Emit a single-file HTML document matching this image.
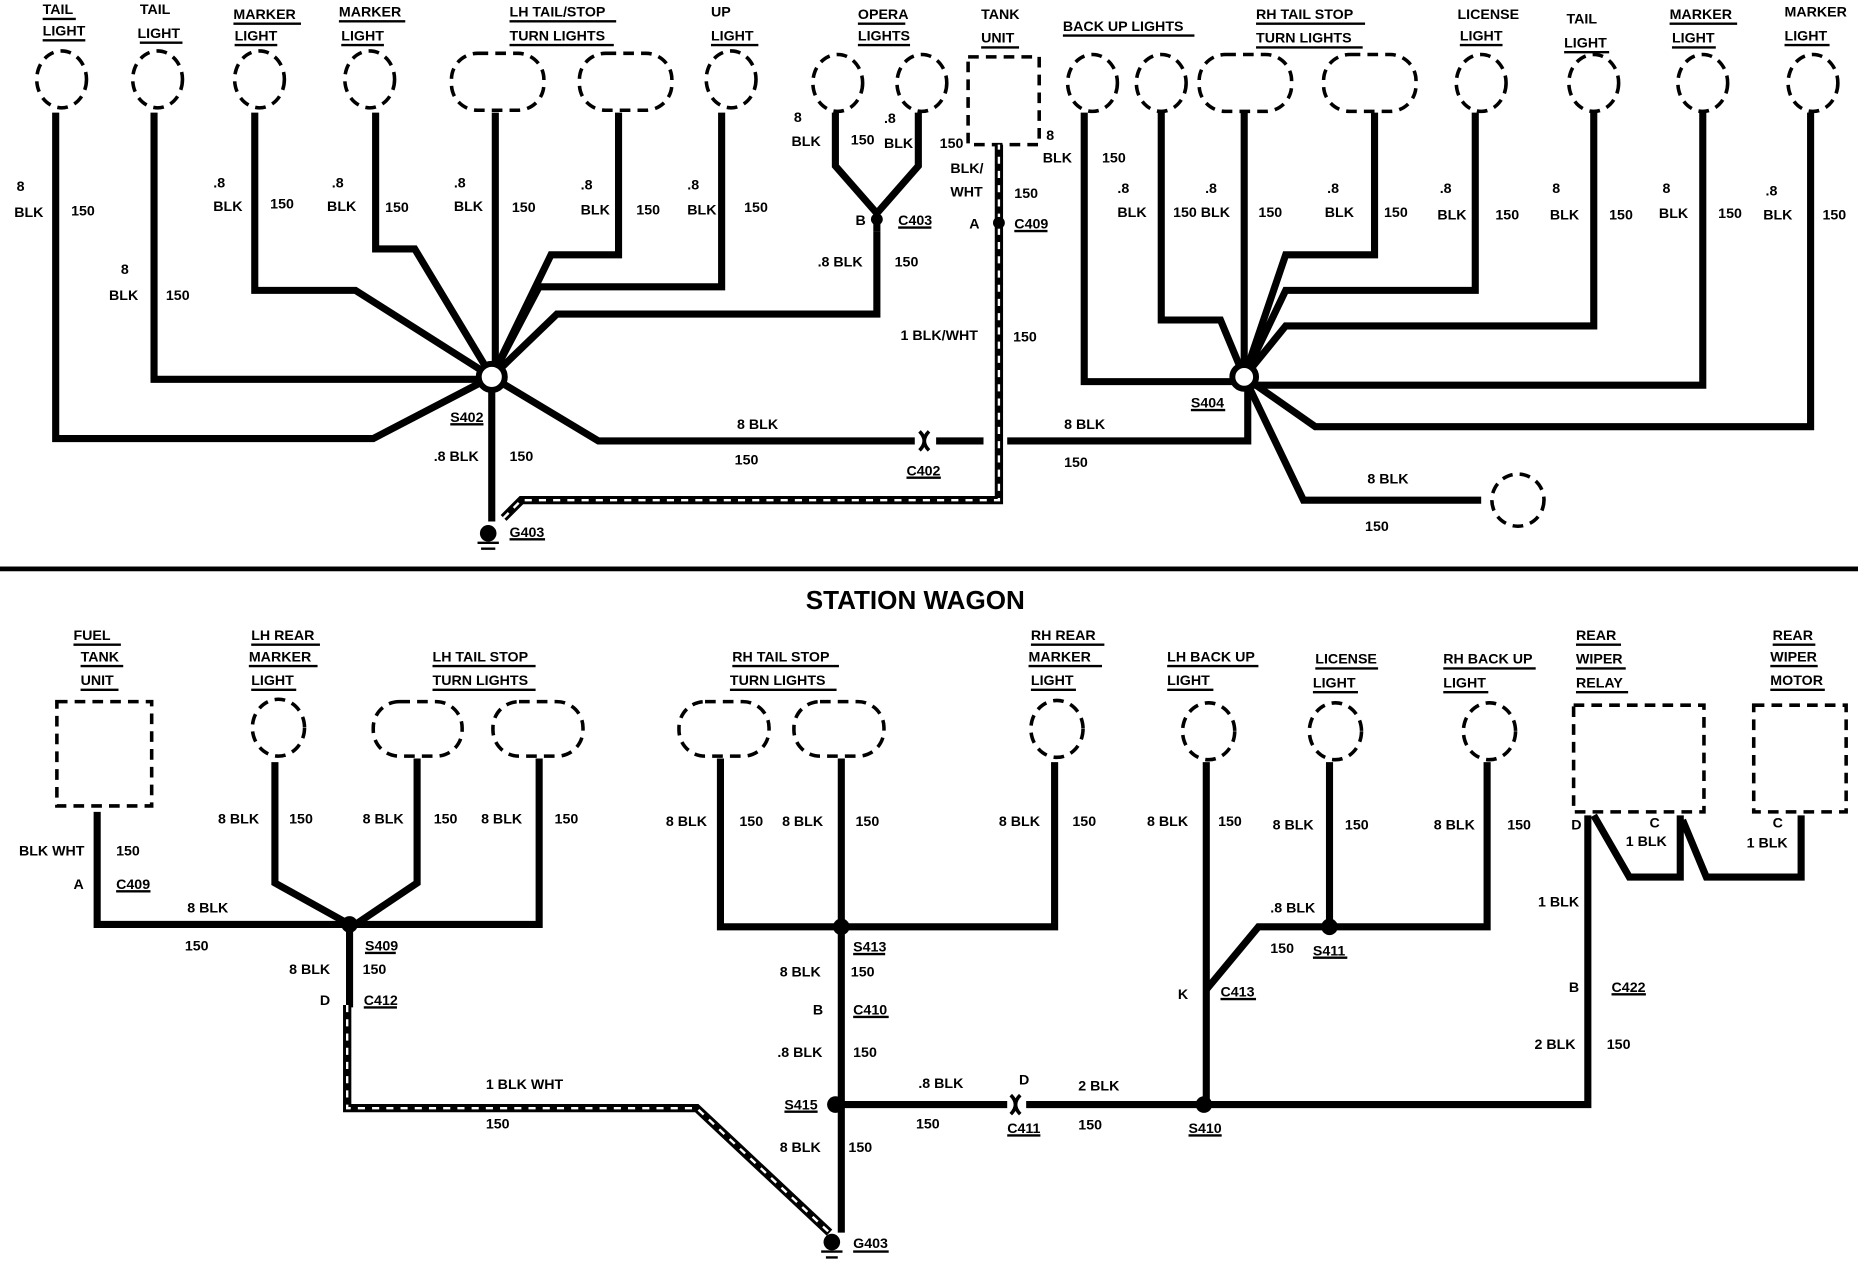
<!DOCTYPE html>
<html><head><meta charset="utf-8"><style>
html,body{margin:0;padding:0;background:#fff;}
svg{display:block;}
text{font-family:"Liberation Sans",sans-serif;font-weight:bold;font-size:12px;fill:#000;}
.t{font-size:12px;}
.w{fill:none;stroke:#000;stroke-width:6;stroke-linejoin:miter;}
.h{fill:none;stroke:#000;stroke-width:7;}
.hw{fill:none;stroke:#fff;stroke-width:2;stroke-dasharray:6 6;}
.d{fill:none;stroke:#000;stroke-width:3;stroke-dasharray:9 6;}
.u{stroke:#000;stroke-width:2;}
</style></head><body>
<svg width="1858" height="1280" viewBox="0 0 1568 1080" preserveAspectRatio="none" xmlns="http://www.w3.org/2000/svg">
<!-- TOP components -->
<g class="d">
<ellipse cx="52" cy="67" rx="21" ry="24"/><ellipse cx="133" cy="67" rx="21" ry="24"/>
<ellipse cx="219" cy="67" rx="21" ry="24"/><ellipse cx="312" cy="67" rx="21" ry="24"/>
<rect x="381" y="45" width="78" height="48" rx="22"/><rect x="489" y="45" width="78" height="48" rx="22"/>
<ellipse cx="617" cy="67" rx="21" ry="24"/>
<ellipse cx="707" cy="70" rx="21" ry="24"/><ellipse cx="778" cy="70" rx="21" ry="24"/>
<rect x="817" y="48" width="60" height="74"/>
<ellipse cx="922" cy="70" rx="21" ry="24"/><ellipse cx="980" cy="70" rx="21" ry="24"/>
<rect x="1012" y="46" width="78" height="48" rx="22"/><rect x="1117" y="46" width="78" height="48" rx="22"/>
<ellipse cx="1250" cy="70" rx="21" ry="24"/><ellipse cx="1345" cy="70" rx="21" ry="24"/>
<ellipse cx="1437" cy="70" rx="21" ry="24"/><ellipse cx="1530" cy="70" rx="21" ry="24"/>
<ellipse cx="1281" cy="422" rx="22" ry="22"/>
</g>
<g class="w">
<path d="M47 95V370H315L415 318"/>
<path d="M130 95V320H415"/>
<path d="M215 95V245H300L415 318"/>
<path d="M317 95V210H350L415 318"/>
<path d="M418 95V318"/>
<path d="M522 95V215H465L415 318"/>
<path d="M609 95V242H455L415 318"/>
<path d="M740 195V265H470L415 318"/>
<path d="M705 95V140L740 180M775 95V140L740 180V195"/>
<path d="M415 318L505 372H772M830 372"/>
<path d="M850 372H1053V318"/>
<path d="M415 318V440"/>
<path d="M915 95V322H1050"/>
<path d="M980 95V270H1030L1050 318"/>
<path d="M1050 95V318"/>
<path d="M1160 95V215H1085L1050 318"/>
<path d="M1245 95V245H1085L1050 318"/>
<path d="M1345 95V275H1085L1050 318"/>
<path d="M1437 95V325H1050"/>
<path d="M1528 95V360H1110L1050 318"/>
<path d="M1050 318L1100 422H1250"/>
<path d="M790 372H830"/>
</g>
<path class="h" d="M425 437L440 422H843V122"/><path class="hw" d="M425 437L440 422H843V122"/>
<circle cx="415" cy="318" r="11" fill="#fff" stroke="#000" stroke-width="5"/>
<circle cx="1050" cy="318" r="10" fill="#fff" stroke="#000" stroke-width="5"/>
<path d="M776 364q8 8 0 16M784 364q-8 8 0 16" stroke="#000" stroke-width="3" fill="none"/>
<circle cx="740" cy="185" r="5"/><circle cx="843" cy="188" r="5"/>
<circle cx="412" cy="450" r="7"/><path class="u" d="M403 458H421M406 463H418"/>
<!-- top labels -->
<g>
<text x="36" y="12">TAIL</text><text x="36" y="30">LIGHT</text>
<text x="118" y="12">TAIL</text><text x="116" y="32">LIGHT</text>
<text x="197" y="16">MARKER</text><text x="198" y="34">LIGHT</text>
<text x="286" y="14">MARKER</text><text x="288" y="34">LIGHT</text>
<text x="430" y="14">LH TAIL/STOP</text><text x="430" y="34">TURN LIGHTS</text>
<text x="600" y="14">UP</text><text x="600" y="34">LIGHT</text>
<text x="724" y="16">OPERA</text><text x="724" y="34">LIGHTS</text>
<text x="828" y="16">TANK</text><text x="828" y="36">UNIT</text>
<text x="897" y="26">BACK UP LIGHTS</text>
<text x="1060" y="16">RH TAIL STOP</text><text x="1060" y="36">TURN LIGHTS</text>
<text x="1230" y="16">LICENSE</text><text x="1232" y="34">LIGHT</text>
<text x="1322" y="20">TAIL</text><text x="1320" y="40">LIGHT</text>
<text x="1409" y="16">MARKER</text><text x="1411" y="36">LIGHT</text>
<text x="1506" y="14">MARKER</text><text x="1506" y="34">LIGHT</text>
</g>
<g class="u">
<path d="M36 16H64M36 34H72M118 36H154M197 20H254M198 38H234M286 18H342M288 38H324M430 18H520M430 38H518M600 38H640M724 20H764M724 38H768M828 40H860M897 30H1008M1060 20H1152M1060 40H1150M1232 38H1268M1320 44H1358M1409 20H1466M1411 40H1448M1506 38H1544"/>
</g>
<g>
<text x="14" y="161">8</text><text x="12" y="183">BLK</text><text x="60" y="182">150</text>
<text x="102" y="231">8</text><text x="92" y="253">BLK</text><text x="140" y="253">150</text>
<text x="180" y="158">.8</text><text x="180" y="178">BLK</text><text x="228" y="176">150</text>
<text x="280" y="158">.8</text><text x="276" y="178">BLK</text><text x="325" y="179">150</text>
<text x="383" y="158">.8</text><text x="383" y="178">BLK</text><text x="432" y="179">150</text>
<text x="490" y="160">.8</text><text x="490" y="181">BLK</text><text x="537" y="181">150</text>
<text x="580" y="160">.8</text><text x="580" y="181">BLK</text><text x="628" y="179">150</text>
<text x="670" y="103">8</text><text x="668" y="123">BLK</text><text x="718" y="122">150</text>
<text x="746" y="104">.8</text><text x="746" y="125">BLK</text><text x="793" y="125">150</text>
<text x="722" y="190">B</text><text x="758" y="190">C403</text>
<text x="690" y="225">.8 BLK</text><text x="755" y="225">150</text>
<text x="883" y="118">8</text><text x="880" y="137">BLK</text><text x="930" y="137">150</text>
<text x="802" y="146">BLK/</text><text x="802" y="166">WHT</text><text x="856" y="167">150</text>
<text x="818" y="193">A</text><text x="856" y="193">C409</text>
<text x="760" y="287">1 BLK/WHT</text><text x="855" y="288">150</text>
<text x="943" y="163">.8</text><text x="943" y="183">BLK</text><text x="990" y="183">150 BLK</text><text x="1017" y="163">.8</text><text x="1062" y="183">150</text>
<text x="1120" y="163">.8</text><text x="1118" y="183">BLK</text><text x="1168" y="183">150</text>
<text x="1215" y="163">.8</text><text x="1213" y="185">BLK</text><text x="1262" y="185">150</text>
<text x="1310" y="163">8</text><text x="1308" y="185">BLK</text><text x="1358" y="185">150</text>
<text x="1403" y="163">8</text><text x="1400" y="184">BLK</text><text x="1450" y="184">150</text>
<text x="1490" y="165">.8</text><text x="1488" y="185">BLK</text><text x="1538" y="185">150</text>
<text x="380" y="356">S402</text><text x="366" y="389">.8 BLK</text><text x="430" y="389">150</text>
<text x="622" y="362">8 BLK</text><text x="620" y="392">150</text>
<text x="765" y="401">C402</text><text x="898" y="362">8 BLK</text><text x="898" y="394">150</text>
<text x="1005" y="344">S404</text>
<text x="1154" y="408">8 BLK</text><text x="1152" y="448">150</text>
<text x="430" y="453">G403</text>
</g>
<path class="u" d="M380 358H408M1005 346H1034M765 403H794M758 192H786M856 195H884M430 455H460"/>
<rect x="0" y="478" width="1568" height="4"/>
<text x="680" y="514" style="font-size:22px">STATION WAGON</text>
<!-- BOTTOM -->
<g class="d">
<rect x="48" y="592" width="80" height="88"/>
<ellipse cx="235" cy="614" rx="22" ry="24"/>
<rect x="315" y="592" width="75" height="46" rx="22"/><rect x="416" y="592" width="76" height="46" rx="22"/>
<rect x="573" y="592" width="76" height="46" rx="22"/><rect x="670" y="592" width="76" height="46" rx="22"/>
<ellipse cx="892" cy="615" rx="22" ry="24"/><ellipse cx="1020" cy="617" rx="22" ry="24"/>
<ellipse cx="1127" cy="617" rx="22" ry="24"/><ellipse cx="1257" cy="617" rx="22" ry="24"/>
<rect x="1328" y="595" width="110" height="90"/><rect x="1480" y="595" width="78" height="90"/>
</g>
<g class="w">
<path d="M82 685V780H295"/>
<path d="M232 643V745L295 780"/>
<path d="M352 640V745L300 780"/>
<path d="M455 640V780H300"/>
<path d="M295 780V850"/>
<path d="M608 640V782H890V643"/>
<path d="M710 640V1040"/>
<path d="M710 932H850M866 932H1340V688"/>
<path d="M1018 643V932"/>
<path d="M1122 643V782H1255V643M1122 782H1062L1018 835"/>
<path d="M1345 688L1375 740H1418V688M1420 692L1440 740H1520V688"/>
</g>
<path class="h" d="M293 848V935H588L700 1040"/><path class="hw" d="M293 848V935H588L700 1040"/>
<circle cx="295" cy="780" r="7"/><circle cx="710" cy="782" r="7"/><circle cx="1122" cy="782" r="7"/>
<circle cx="705" cy="932" r="7"/><circle cx="1016" cy="932" r="7"/>
<path d="M853 924q8 8 0 16M861 924q-8 8 0 16" stroke="#000" stroke-width="3" fill="none"/>
<circle cx="702" cy="1048" r="7"/><path class="u" d="M693 1056H711M697 1061H707"/>
<g>
<text x="62" y="540">FUEL</text><text x="68" y="558">TANK</text><text x="68" y="578">UNIT</text>
<text x="212" y="540">LH REAR</text><text x="210" y="558">MARKER</text><text x="212" y="578">LIGHT</text>
<text x="365" y="558">LH TAIL STOP</text><text x="365" y="578">TURN LIGHTS</text>
<text x="618" y="558">RH TAIL STOP</text><text x="616" y="578">TURN LIGHTS</text>
<text x="870" y="540">RH REAR</text><text x="868" y="558">MARKER</text><text x="870" y="578">LIGHT</text>
<text x="985" y="558">LH BACK UP</text><text x="985" y="578">LIGHT</text>
<text x="1110" y="560">LICENSE</text><text x="1108" y="580">LIGHT</text>
<text x="1218" y="560">RH BACK UP</text><text x="1218" y="580">LIGHT</text>
<text x="1330" y="540">REAR</text><text x="1330" y="560">WIPER</text><text x="1330" y="580">RELAY</text>
<text x="1496" y="540">REAR</text><text x="1494" y="558">WIPER</text><text x="1494" y="578">MOTOR</text>
<text x="16" y="722">BLK WHT</text><text x="98" y="722">150</text>
<text x="62" y="750">A</text><text x="98" y="750">C409</text>
<text x="158" y="770">8 BLK</text><text x="156" y="802">150</text>
<text x="184" y="695">8 BLK</text><text x="244" y="695">150</text>
<text x="306" y="695">8 BLK</text><text x="366" y="695">150</text>
<text x="406" y="695">8 BLK</text><text x="468" y="695">150</text>
<text x="308" y="802">S409</text>
<text x="244" y="822">8 BLK</text><text x="306" y="822">150</text>
<text x="270" y="848">D</text><text x="307" y="848">C412</text>
<text x="410" y="919">1 BLK WHT</text><text x="410" y="952">150</text>
<text x="562" y="697">8 BLK</text><text x="624" y="697">150</text>
<text x="660" y="697">8 BLK</text><text x="722" y="697">150</text>
<text x="843" y="697">8 BLK</text><text x="905" y="697">150</text>
<text x="720" y="803">S413</text>
<text x="658" y="824">8 BLK</text><text x="718" y="824">150</text>
<text x="686" y="856">B</text><text x="720" y="856">C410</text>
<text x="656" y="892">.8 BLK</text><text x="720" y="892">150</text>
<text x="662" y="936">S415</text>
<text x="658" y="972">8 BLK</text><text x="716" y="972">150</text>
<text x="720" y="1053">G403</text>
<text x="775" y="918">.8 BLK</text><text x="773" y="952">150</text>
<text x="860" y="915">D</text><text x="850" y="956">C411</text>
<text x="910" y="920">2 BLK</text><text x="910" y="953">150</text>
<text x="1003" y="956">S410</text>
<text x="968" y="697">8 BLK</text><text x="1028" y="697">150</text>
<text x="1074" y="700">8 BLK</text><text x="1135" y="700">150</text>
<text x="1210" y="700">8 BLK</text><text x="1272" y="700">150</text>
<text x="1072" y="770">.8 BLK</text><text x="1072" y="804">150</text>
<text x="1108" y="806">S411</text>
<text x="994" y="843">K</text><text x="1030" y="841">C413</text>
<text x="1326" y="700">D</text><text x="1392" y="698">C</text><text x="1372" y="714">1 BLK</text>
<text x="1496" y="698">C</text><text x="1474" y="715">1 BLK</text>
<text x="1298" y="765">1 BLK</text>
<text x="1324" y="837">B</text><text x="1360" y="837">C422</text>
<text x="1295" y="885">2 BLK</text><text x="1356" y="885">150</text>
</g>
<path class="u" d="M62 544H102M68 562H104M68 582H100M212 544H270M210 562H268M212 582H250M365 562H452M365 582H452M618 562H708M616 582H706M870 544H932M868 562H930M870 582H908M985 562H1062M985 582H1024M1110 564H1163M1108 584H1146M1218 564H1296M1218 584H1256M1330 544H1368M1330 564H1372M1330 584H1374M1496 544H1532M1494 562H1534M1494 582H1540M98 752H127M308 804H334M307 850H335M720 805H747M720 858H750M662 938H690M720 1056H750M850 958H878M1003 958H1031M1108 808H1137M1030 843H1060M1360 839H1389"/>
</svg>
</body></html>
